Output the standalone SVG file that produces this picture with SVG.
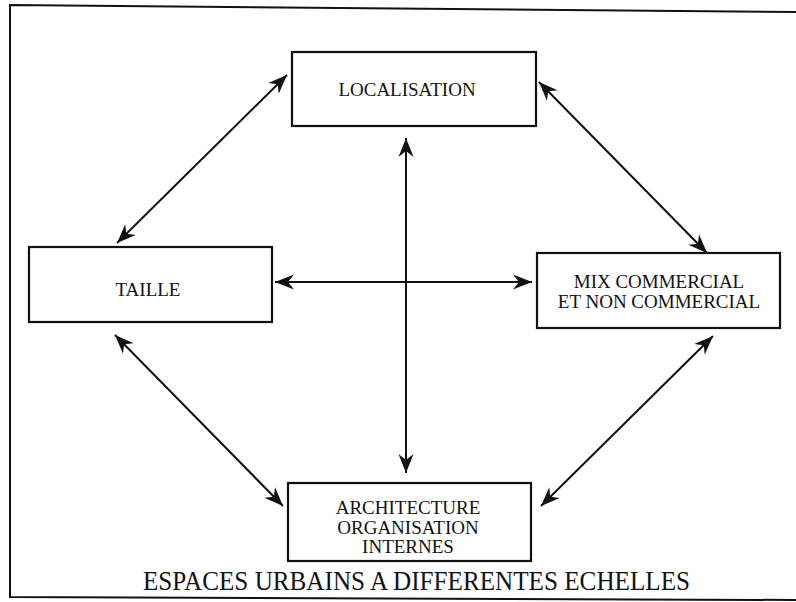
<svg xmlns="http://www.w3.org/2000/svg" width="796" height="602" viewBox="0 0 796 602">
<defs>
<style>
.box{fill:#fff;stroke:#111;stroke-width:2.2}
.lbl{font-family:"Liberation Serif","Times New Roman",serif;font-size:19px;fill:#111;text-anchor:middle}
.con{stroke:#111;stroke-width:2;fill:none;marker-start:url(#ah);marker-end:url(#ah)}
</style>
<marker id="ah" markerUnits="userSpaceOnUse" viewBox="-20 -10 22 20" markerWidth="22" markerHeight="20" refX="0" refY="0" orient="auto-start-reverse">
<path d="M0,0 L-19,-7.5 L-13,0 L-19,7.5 Z" fill="#111"/>
</marker>
</defs>
<rect width="796" height="602" fill="#fff"/>
<polyline points="796,12 10,5 10,597 796,600" fill="none" stroke="#111" stroke-width="2"/>
<g id="connectors">
<line class="con" x1="117" y1="243" x2="287" y2="75"/>
<line class="con" x1="539" y1="82" x2="707" y2="253"/>
<line class="con" x1="115" y1="335" x2="283" y2="506"/>
<line class="con" x1="713" y1="336" x2="541" y2="506"/>
<line class="con" x1="275" y1="282" x2="532" y2="282"/>
<line class="con" x1="406" y1="138" x2="406" y2="473"/>
</g>
<g id="localisation">
<rect class="box" x="292" y="52" width="244" height="74"/>
<text class="lbl" x="407" y="96">LOCALISATION</text>
</g>
<g id="taille">
<rect class="box" x="29" y="247" width="243" height="75"/>
<text class="lbl" x="148" y="296">TAILLE</text>
</g>
<g id="mix">
<rect class="box" x="537" y="253" width="243" height="75"/>
<text class="lbl" x="659" y="288">MIX COMMERCIAL</text>
<text class="lbl" x="659" y="308">ET NON COMMERCIAL</text>
</g>
<g id="architecture">
<rect class="box" x="288" y="483" width="243" height="78"/>
<text class="lbl" x="408" y="514">ARCHITECTURE</text>
<text class="lbl" x="408" y="534">ORGANISATION</text>
<text class="lbl" x="408" y="553">INTERNES</text>
</g>
<text x="143" y="590" font-family="Liberation Serif, Times New Roman, serif" font-size="27" fill="#111" textLength="547" lengthAdjust="spacingAndGlyphs">ESPACES URBAINS A DIFFERENTES ECHELLES</text>
</svg>
